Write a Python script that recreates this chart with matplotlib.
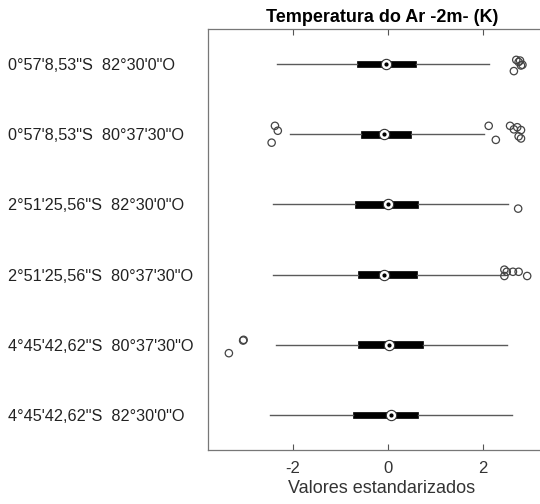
import matplotlib
matplotlib.use("Agg")
import matplotlib.pyplot as plt

plt.rcParams['font.family'] = ['Liberation Sans', 'DejaVu Sans']

labels = ["0°57'8,53\"S  82°30'0\"O",
          "0°57'8,53\"S  80°37'30\"O",
          "2°51'25,56\"S  82°30'0\"O",
          "2°51'25,56\"S  80°37'30\"O",
          "4°45'42,62\"S  80°37'30\"O",
          "4°45'42,62\"S  82°30'0\"O"]

whislo = [-2.33, -2.07, -2.43, -2.43, -2.36, -2.48]
q1 = [-0.66, -0.57, -0.69, -0.63, -0.64, -0.74]
med = [-0.04, -0.09, 0.01, -0.08, 0.02, 0.06]
q3 = [0.58, 0.49, 0.64, 0.60, 0.74, 0.64]
whishi = [2.13, 2.03, 2.53, 2.46, 2.50, 2.60]

# outliers: (row index, value, jitter offset)
out_row = [0, 0, 0, 0, 0, 0,
           1, 1, 1, 1, 1, 1, 1, 1, 1, 1, 1,
           2,
           3, 3, 3, 3, 3, 3,
           4, 4, 4]
out_val = [2.70, 2.75, 2.80, 2.78, 2.83, 2.65,
           -2.38, -2.32, -2.45, 2.12, 2.27, 2.57, 2.65, 2.72, 2.80, 2.80, 2.75,
           2.74,
           2.45, 2.45, 2.50, 2.63, 2.75, 2.93,
           -3.05, -3.04, -3.35]
out_jit = [-0.06, -0.03, 0.02, -0.05, 0.01, 0.10,
           -0.12, -0.05, 0.12, -0.12, 0.08, -0.12, -0.07, -0.10, -0.06, 0.06, 0.03,
           0.06,
           -0.07, 0.02, -0.04, -0.04, -0.04, 0.02,
           -0.06, -0.07, 0.12]

fig = plt.figure(figsize=(5.4, 5.04), dpi=100)
ax = fig.add_axes([208/540, 1-450/504, (556-208)/540, (450-29)/504])

pos = list(range(1, len(labels) + 1))
stats = []
for i in range(len(labels)):
    stats.append(dict(med=med[i], q1=q1[i], q3=q3[i], whislo=whislo[i], whishi=whishi[i], fliers=[]))

ax.bxp(stats, positions=pos, vert=False, widths=0.095, patch_artist=True,
       showfliers=False, showcaps=False,
       boxprops=dict(facecolor='black', edgecolor='black', linewidth=0.5),
       whiskerprops=dict(color='#5a5a5a', linewidth=1.0),
       medianprops=dict(linestyle='none'))

ax.scatter(med, pos, s=55, facecolor='white', edgecolor='#333333', linewidth=0.8, zorder=5)
ax.scatter(med, pos, s=4, color='black', zorder=6)

oy = [pos[r] + j for r, j in zip(out_row, out_jit)]
ax.scatter(out_val, oy, s=28, facecolor='none', edgecolor='#444444', linewidth=0.9, zorder=4)

ax.set_xlim((208-388)/47.5, (556-388)/47.5)
ax.set_ylim(6.5, 0.5)
ax.set_yticks(pos)
ax.set_yticklabels(labels, fontsize=11.7, color='#222222', ha='left')
ax.tick_params(axis='y', length=0, pad=(208-8)*0.72)
ax.set_xticks([-2, 0, 2])
ax.set_xticklabels(['-2', '0', '2'])
ax.tick_params(axis='x', direction='in', length=4, top=True, labelsize=12,
               colors='#555555', labelcolor='#333333', pad=8)
for sp in ax.spines.values():
    sp.set_color('#777777')
    sp.set_linewidth(0.9)

ax.set_title('Temperatura do Ar -2m- (K)', fontsize=13, fontweight='bold', pad=5)
ax.set_xlabel('Valores estandarizados', fontsize=13, color='#333333', labelpad=3)

fig.savefig('out.png', dpi=100)
